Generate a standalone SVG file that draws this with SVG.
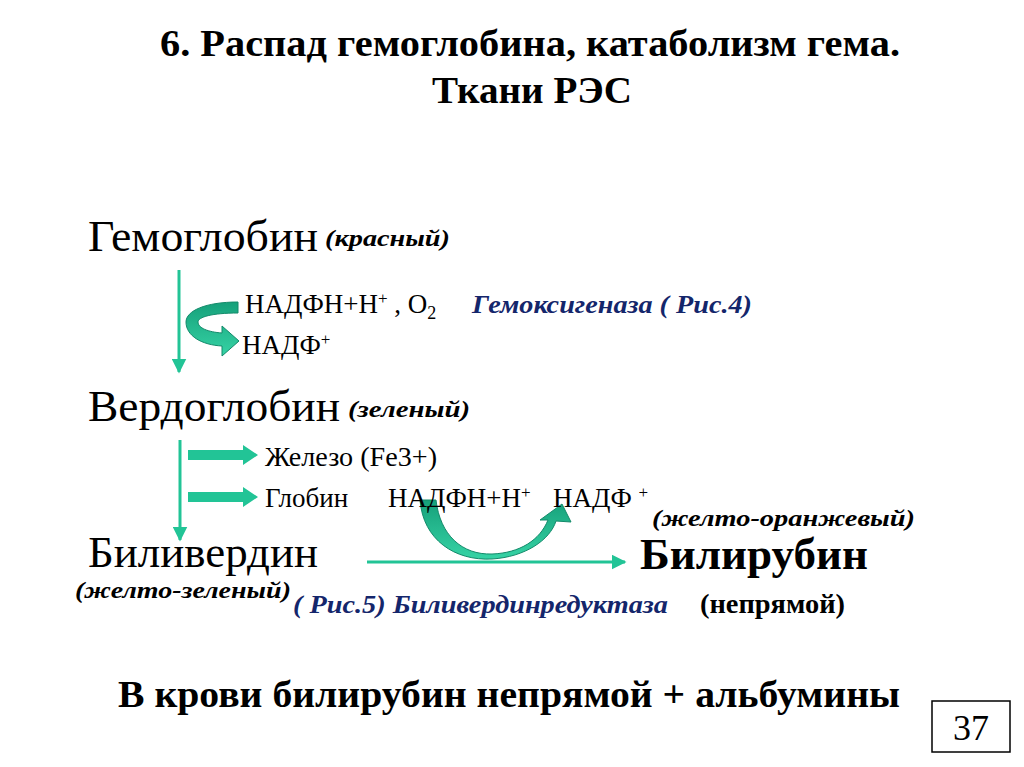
<svg xmlns="http://www.w3.org/2000/svg" width="1024" height="767" viewBox="0 0 1024 767">
<style>
.s{font-family:"Liberation Serif","DejaVu Serif",serif;fill:#000}
.b{font-weight:bold}
.i{font-style:italic;font-weight:bold}
.n{fill:#14266b}
.ln{stroke:#22c496;stroke-width:3;fill:none}
</style>
<defs>
<marker id="ah" viewBox="0 0 10 10" refX="9" refY="5" markerWidth="5" markerHeight="5" orient="auto" markerUnits="strokeWidth"><path d="M0,0 L10,5 L0,10 z" fill="#22c496"/></marker>
<linearGradient id="g" x1="0" y1="0" x2="0" y2="1"><stop offset="0" stop-color="#16a07a"/><stop offset="1" stop-color="#36d3a5"/></linearGradient>
</defs>
<rect width="1024" height="767" fill="#fff"/>
<g id="title">
<text class="s b" x="530" y="56" font-size="38" text-anchor="middle" textLength="740" lengthAdjust="spacingAndGlyphs">6. Распад гемоглобина,  катаболизм гема.</text>
<text class="s b" x="532" y="103" font-size="38" text-anchor="middle" textLength="200" lengthAdjust="spacingAndGlyphs">Ткани РЭС</text>
</g>
<g id="connectors">
<line class="ln" x1="179" y1="270" x2="179" y2="372" marker-end="url(#ah)"/>
<line class="ln" x1="180" y1="440" x2="180" y2="540" marker-end="url(#ah)"/>
<line class="ln" x1="367" y1="562" x2="625" y2="562" marker-end="url(#ah)"/>
<path d="M238,302 C205,302 186,311 186,322 C186,336 202,345 222,346 L222,356 L239,341 L222,326 L222,333 C208,332 198,328 198,322 C198,317 212,313 238,313 z" fill="url(#g)" stroke="#138a6a" stroke-width="1"/>
<path d="M188,450 L243,450 L243,445 L258,455 L243,465 L243,460 L188,460 z" fill="#22c496"/>
<path d="M188,492 L243,492 L243,487 L258,497 L243,507 L243,502 L188,502 z" fill="#22c496"/>
<path d="M420,500 C423,540 455,561 492,559 C525,557 550,540 556,521 L571,522 L562,504 L540,520 L548,520 C540,540 520,553 492,554 C462,555 440,535 436,500 z" fill="url(#g)" stroke="#138a6a" stroke-width="1"/>
</g>
<g id="hemoglobin">
<text class="s" x="88" y="251" font-size="45" textLength="230" lengthAdjust="spacingAndGlyphs">Гемоглобин</text>
<text class="s i" x="325" y="246" font-size="24" textLength="125" lengthAdjust="spacingAndGlyphs">(красный)</text>
</g>
<g id="step1">
<text class="s" x="245" y="313" font-size="27">НАДФН+Н<tspan font-size="17" dy="-9">+</tspan><tspan dy="9"> , О</tspan><tspan font-size="18" dy="6">2</tspan></text>
<text class="s i n" x="472" y="313" font-size="26" textLength="280" lengthAdjust="spacingAndGlyphs">Гемоксигеназа ( Рис.4)</text>
<text class="s" x="242" y="354" font-size="27">НАДФ<tspan font-size="17" dy="-9">+</tspan></text>
</g>
<g id="verdoglobin">
<text class="s" x="88" y="421" font-size="45" textLength="252" lengthAdjust="spacingAndGlyphs">Вердоглобин</text>
<text class="s i" x="348" y="417" font-size="24" textLength="122" lengthAdjust="spacingAndGlyphs">(зеленый)</text>
</g>
<g id="step2">
<text class="s" x="265" y="466" font-size="27" textLength="172" lengthAdjust="spacingAndGlyphs">Железо (Fe3+)</text>
<text class="s" x="265" y="507" font-size="27">Глобин</text>
<text class="s" x="388" y="507" font-size="27">НАДФН+Н<tspan font-size="17" dy="-9">+</tspan></text>
<text class="s" x="553" y="507" font-size="27">НАДФ <tspan font-size="17" dy="-9">+</tspan></text>
</g>
<g id="biliverdin">
<text class="s" x="88" y="567" font-size="45" textLength="230" lengthAdjust="spacingAndGlyphs">Биливердин</text>
<text class="s i" x="75" y="598" font-size="24" textLength="216" lengthAdjust="spacingAndGlyphs">(желто-зеленый)</text>
</g>
<g id="bilirubin">
<text class="s i" x="652" y="526" font-size="24" textLength="263" lengthAdjust="spacingAndGlyphs">(желто-оранжевый)</text>
<text class="s b" x="640" y="569" font-size="45" textLength="228" lengthAdjust="spacingAndGlyphs">Билирубин</text>
<text class="s b" x="700" y="613" font-size="27" textLength="145" lengthAdjust="spacingAndGlyphs">(непрямой)</text>
</g>
<g id="enzyme">
<text class="s i n" x="293" y="613" font-size="26" textLength="375" lengthAdjust="spacingAndGlyphs">( Рис.5) Биливердинредуктаза</text>
</g>
<g id="footer">
<text class="s b" x="118" y="707" font-size="37" textLength="782" lengthAdjust="spacingAndGlyphs">В крови билирубин непрямой + альбумины</text>
</g>
<g id="page">
<rect x="932" y="701" width="78" height="51" fill="none" stroke="#000" stroke-width="1.5"/>
<text class="s" x="971" y="740" font-size="36" text-anchor="middle">37</text>
</g>
</svg>
